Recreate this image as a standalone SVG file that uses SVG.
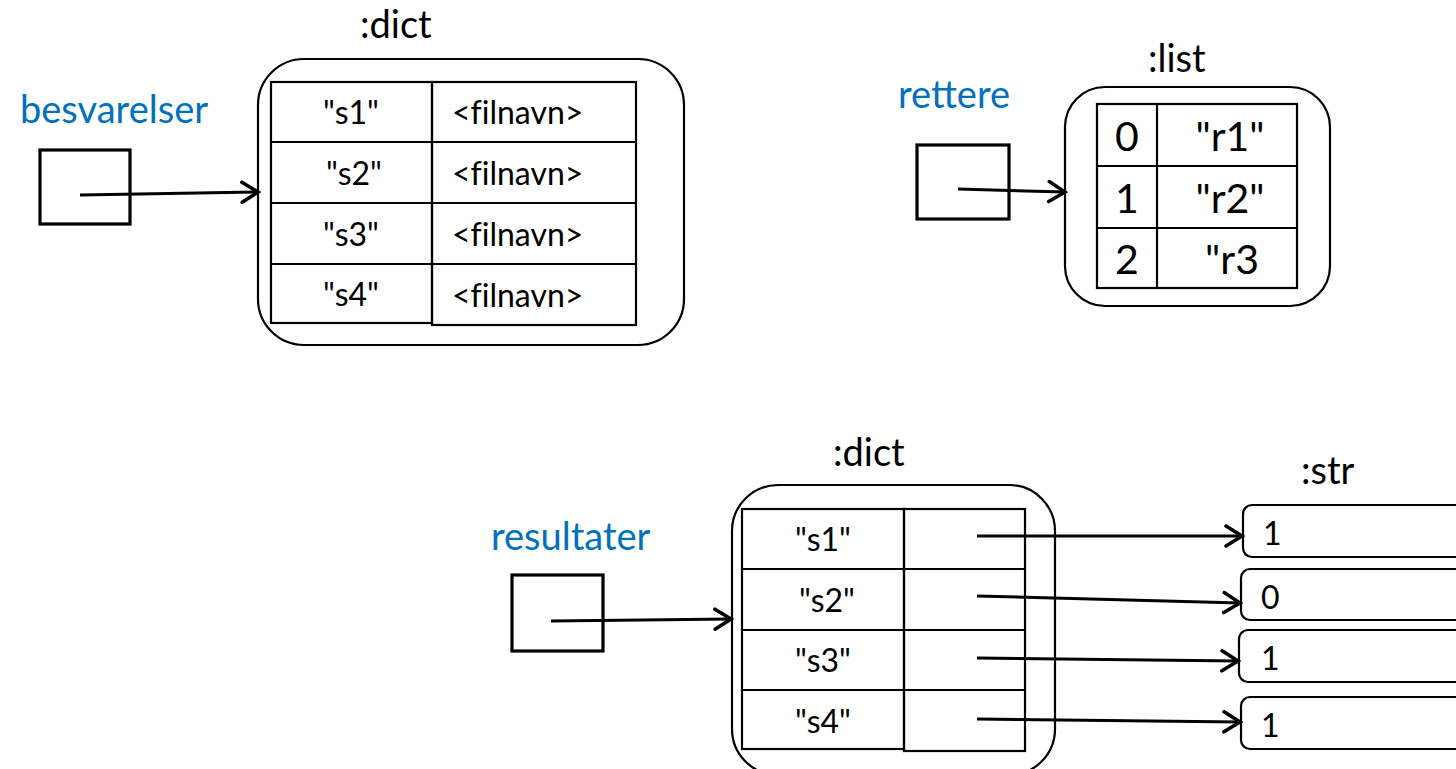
<svg xmlns="http://www.w3.org/2000/svg" width="1456" height="769" viewBox="0 0 1456 769">
<defs>
<style>
.t{font-family:Lato,"Liberation Sans",sans-serif;fill:#000;font-variant-ligatures:none}
.lbl{font-size:38px}
.cell{font-size:32px}
.big{font-size:41px}
.var{font-family:Lato,"Liberation Sans",sans-serif;font-size:38px;fill:#0070C0}
.box{fill:none;stroke:#000;stroke-width:3.2}
.frame{fill:#fff;stroke:#000;stroke-width:2.2}
.grid{fill:none;stroke:#000;stroke-width:2.2}
.conn{fill:none;stroke:#000;stroke-width:3;marker-end:url(#arr)}
</style>
<marker id="arr" markerUnits="userSpaceOnUse" markerWidth="22" markerHeight="26" refX="19" refY="12" orient="auto" viewBox="0 0 22 24">
<path d="M3,2 L19,12 L3,22" fill="none" stroke="#000" stroke-width="3.5" stroke-linecap="round" stroke-linejoin="miter"/>
</marker>
</defs>

<g id="besvarelser">
<text class="var" x="20" y="123">besvarelser</text>
<rect class="box" x="40" y="150" width="90" height="74"/>
</g>

<g id="dict1">
<text class="t lbl" x="360" y="38">:dict</text>
<rect class="frame" x="258" y="59" width="426" height="286" rx="46"/>
<rect class="grid" x="271" y="82" width="161" height="241"/>
<rect class="grid" x="432" y="82" width="204" height="243"/>
<line class="grid" x1="271" y1="142" x2="636" y2="142"/>
<line class="grid" x1="271" y1="203" x2="636" y2="203"/>
<line class="grid" x1="271" y1="264" x2="636" y2="264"/>
<text class="t cell" x="351" y="124" text-anchor="middle">"s1"</text>
<text class="t cell" x="354" y="185" text-anchor="middle">"s2"</text>
<text class="t cell" x="351" y="246" text-anchor="middle">"s3"</text>
<text class="t cell" x="351" y="306" text-anchor="middle">"s4"</text>
<text class="t cell" x="452" y="124">&lt;filnavn&gt;</text>
<text class="t cell" x="452" y="185">&lt;filnavn&gt;</text>
<text class="t cell" x="452" y="246">&lt;filnavn&gt;</text>
<text class="t cell" x="452" y="307">&lt;filnavn&gt;</text>
</g>

<g id="rettere">
<text class="var" x="898" y="108">rettere</text>
<rect class="box" x="917" y="145" width="92" height="74"/>
</g>

<g id="list1">
<text class="t lbl" x="1148" y="72">:list</text>
<rect class="frame" x="1065" y="87" width="265" height="219" rx="40"/>
<rect class="grid" x="1097" y="104" width="200" height="184"/>
<line class="grid" x1="1157" y1="104" x2="1157" y2="288"/>
<line class="grid" x1="1097" y1="166" x2="1297" y2="166"/>
<line class="grid" x1="1097" y1="228" x2="1297" y2="228"/>
<text class="t big" x="1127" y="151" text-anchor="middle">0</text>
<text class="t big" x="1127" y="213" text-anchor="middle">1</text>
<text class="t big" x="1127" y="274" text-anchor="middle">2</text>
<text class="t big" x="1230" y="151" text-anchor="middle">"r1"</text>
<text class="t big" x="1230" y="213" text-anchor="middle">"r2"</text>
<text class="t big" x="1232" y="274" text-anchor="middle">"r3</text>
</g>

<g id="resultater">
<text class="var" x="491" y="550">resultater</text>
<rect class="box" x="512" y="575" width="91" height="76"/>
</g>

<g id="dict2">
<text class="t lbl" x="833" y="466">:dict</text>
<rect class="frame" x="732" y="485" width="323" height="290" rx="46"/>
<rect class="grid" x="742" y="509" width="162" height="240"/>
<rect class="grid" x="904" y="509" width="121" height="242"/>
<line class="grid" x1="742" y1="569" x2="1025" y2="569"/>
<line class="grid" x1="742" y1="630" x2="1025" y2="630"/>
<line class="grid" x1="742" y1="690" x2="1025" y2="690"/>
<text class="t cell" x="823" y="551" text-anchor="middle">"s1"</text>
<text class="t cell" x="827" y="612" text-anchor="middle">"s2"</text>
<text class="t cell" x="823" y="672" text-anchor="middle">"s3"</text>
<text class="t cell" x="823" y="733" text-anchor="middle">"s4"</text>
</g>

<g id="str">
<text class="t lbl" x="1301" y="484">:str</text>
<rect class="frame" x="1243" y="505" width="240" height="52" rx="9"/>
<rect class="frame" x="1241" y="569" width="240" height="51" rx="9"/>
<rect class="frame" x="1239" y="630" width="240" height="52" rx="9"/>
<rect class="frame" x="1241" y="697" width="240" height="52" rx="9"/>
<text class="t cell" x="1263" y="545">1</text>
<text class="t cell" x="1261" y="609">0</text>
<text class="t cell" x="1261" y="670">1</text>
<text class="t cell" x="1261" y="737">1</text>
</g>

<g id="connectors">
<line class="conn" x1="80" y1="195" x2="258" y2="192"/>
<line class="conn" x1="958" y1="189" x2="1065" y2="192"/>
<line class="conn" x1="551" y1="621" x2="731" y2="619"/>
<line class="conn" x1="977" y1="536" x2="1242" y2="536"/>
<line class="conn" x1="977" y1="596" x2="1240" y2="603"/>
<line class="conn" x1="977" y1="658" x2="1238" y2="661"/>
<line class="conn" x1="977" y1="719" x2="1240" y2="722"/>
</g>
</svg>
